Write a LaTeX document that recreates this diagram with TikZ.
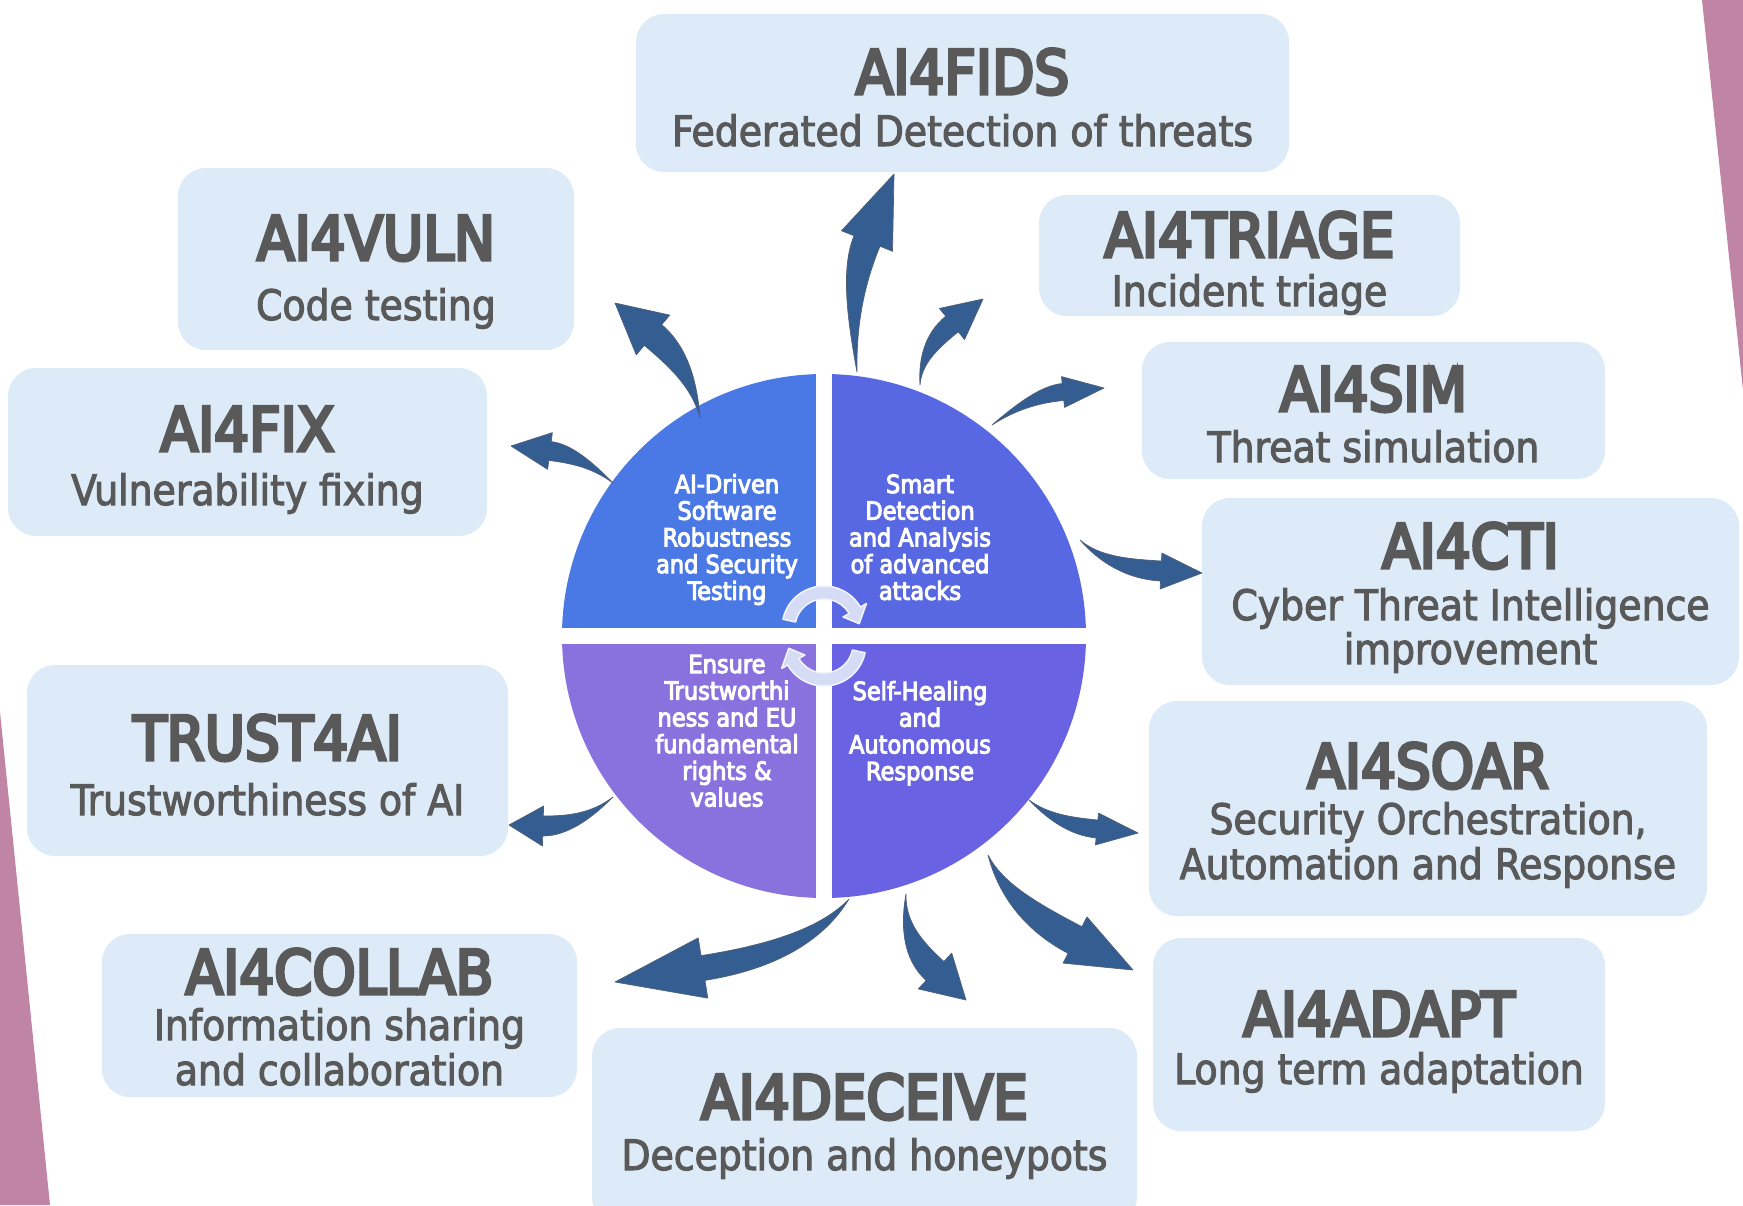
\documentclass[tikz,border=0pt]{standalone}
\usepackage{fontspec}
\usetikzlibrary{calc}
\newfontfamily\dvcttl{DejaVu Sans Condensed}[FakeBold=5.5]
\newfontfamily\dvcsub{DejaVu Sans Condensed}[FakeBold=2.5]
\newfontfamily\dvcq{DejaVu Sans Condensed}[FakeBold=4]
\definecolor{boxblue}{RGB}{220,235,247}
\definecolor{txtgray}{RGB}{89,89,89}
\definecolor{pinkside}{RGB}{192,132,164}
\definecolor{arrowblue}{RGB}{52,94,145}
\definecolor{arrowedge}{RGB}{80,95,120}
\definecolor{qtl}{RGB}{74,120,228}
\definecolor{qtr}{RGB}{88,104,226}
\definecolor{qbl}{RGB}{137,114,222}
\definecolor{qbr}{RGB}{105,98,226}
\definecolor{cyclefill}{RGB}{214,220,246}
\definecolor{cycleedge}{RGB}{242,244,253}
\tikzset{
  box/.style={fill=boxblue, rounded corners=28pt, inner sep=0pt},
  ttl/.style={anchor=base, text=txtgray, inner sep=0pt, font=\dvcttl\fontsize{61}{64}\selectfont},
  sub/.style={anchor=base, text=txtgray, inner sep=0pt, font=\dvcsub\fontsize{42}{45}\selectfont},
  qtxt/.style={anchor=base, text=white, inner sep=0pt, font=\dvcq\fontsize{25}{26.7}\selectfont},
  fatarrowstyle/.style={fill=arrowblue, draw=arrowedge, line width=0.7pt, line join=round},
  cyclearrow/.style={fill=cyclefill, draw=cycleedge, line width=1.5pt, line join=round}
}
% tail, control, head base, tip, half body width, half head width, control offset
\newcommand{\fatarrow}[7]{%
  \coordinate (aS) at (#1);
  \coordinate (aC) at (#2);
  \coordinate (aH) at (#3);
  \coordinate (aT) at (#4);
  \coordinate (aP1) at ($(aH)!#5pt!90:(aT)$);
  \coordinate (aP2) at ($(aH)!#5pt!-90:(aT)$);
  \coordinate (aB1) at ($(aH)!#6pt!90:(aT)$);
  \coordinate (aB2) at ($(aH)!#6pt!-90:(aT)$);
  \coordinate (aC1) at ($(aC)!#7pt!90:(aH)$);
  \coordinate (aC2) at ($(aC)!#7pt!-90:(aH)$);
  \coordinate (aE1) at ($(aS)!0.667!(aC1)$);
  \coordinate (aE2) at ($(aS)!0.667!(aC2)$);
  \coordinate (aD1) at ($(aP1)+0.667*(aC)-0.667*(aH)$);
  \coordinate (aD2) at ($(aP2)+0.667*(aC)-0.667*(aH)$);
  \path[fatarrowstyle] (aS) .. controls (aE1) and (aD1) .. (aP1) -- (aB1) -- (aT) -- (aB2) -- (aP2)
     .. controls (aD2) and (aE2) .. (aS) -- cycle;
}
\begin{document}
\begin{tikzpicture}[x=1pt,y=-1pt]
\useasboundingbox (0,0) rectangle (1743,1205);
% pink side wedges
\fill[pinkside] (1702,0) -- (1743,0) -- (1743,390) -- cycle;
\fill[pinkside] (0,712) -- (50,1205) -- (0,1205) -- cycle;

% boxes
\node[box, minimum width=653pt, minimum height=158pt] (fids) at (962.5,93) {};
\node[box, minimum width=396pt, minimum height=182pt] (vuln) at (376,259) {};
\node[box, minimum width=421pt, minimum height=121pt] (triage) at (1249.5,255.5) {};
\node[box, minimum width=463pt, minimum height=137pt] (sim) at (1373.5,410.5) {};
\node[box, minimum width=479pt, minimum height=168pt] (fix) at (247.5,452) {};
\node[box, minimum width=537pt, minimum height=187pt] (cti) at (1470.5,591.5) {};
\node[box, minimum width=481pt, minimum height=191pt] (trust) at (267.5,760.5) {};
\node[box, minimum width=558pt, minimum height=215pt] (soar) at (1428,808.5) {};
\node[box, minimum width=475pt, minimum height=163pt] (collab) at (339.5,1015.5) {};
\node[box, minimum width=545pt, minimum height=197pt] (deceive) at (864.5,1126.5) {};
\node[box, minimum width=452pt, minimum height=193pt] (adapt) at (1379,1034.5) {};

% box texts
\node[ttl] (fidsT) at (962.5,94) {AI4FIDS};
\node[sub] (fidsS) at (962.5,146) {Federated Detection of threats};
\node[ttl] (vulnT) at (376,260) {AI4VULN};
\node[sub] (vulnS) at (376,320) {Code testing};
\node[ttl] (triageT) at (1249.5,257) {AI4TRIAGE};
\node[sub] (triageS) at (1249.5,306) {Incident triage};
\node[ttl] (simT) at (1373.5,411) {AI4SIM};
\node[sub] (simS) at (1373.5,462) {Threat simulation};
\node[ttl] (fixT) at (247.5,451) {AI4FIX};
\node[sub] (fixS) at (247.5,505) {Vulnerability fixing};
\node[ttl] (ctiT) at (1470.5,568) {AI4CTI};
\node[sub] (ctiS1) at (1470.5,620) {Cyber Threat Intelligence};
\node[sub] (ctiS2) at (1470.5,664) {improvement};
\node[ttl] (trustT) at (267.5,760) {TRUST4AI};
\node[sub] (trustS) at (267.5,815) {Trustworthiness of AI};
\node[ttl] (soarT) at (1428,788) {AI4SOAR};
\node[sub] (soarS1) at (1428,834) {Security Orchestration,};
\node[sub] (soarS2) at (1428,879) {Automation and Response};
\node[ttl] (collabT) at (339.5,994) {AI4COLLAB};
\node[sub] (collabS1) at (339.5,1040) {Information sharing};
\node[sub] (collabS2) at (339.5,1085) {and collaboration};
\node[ttl] (deceiveT) at (864.5,1119) {AI4DECEIVE};
\node[sub] (deceiveS) at (864.5,1170) {Deception and honeypots};
\node[ttl] (adaptT) at (1379,1036) {AI4ADAPT};
\node[sub] (adaptS) at (1379,1084) {Long term adaptation};

% central disk
\coordinate (cc) at (824,636);
\begin{scope}
  \clip (cc) circle[radius=262];
  \fill[qtl] (550,360) rectangle (816,628);
  \fill[qtr] (832,360) rectangle (1100,628);
  \fill[qbl] (550,644) rectangle (816,910);
  \fill[qbr] (832,644) rectangle (1100,910);
\end{scope}

% quadrant texts
\foreach \t [count=\i] in {AI-Driven,Software,Robustness,and Security,Testing}
  \node[qtxt] (qa\i) at (727,{493+26.7*(\i-1)}) {\t};
\foreach \t [count=\i] in {Smart,Detection,and Analysis,of advanced,attacks}
  \node[qtxt] (qb\i) at (920,{493+26.7*(\i-1)}) {\t};
\foreach \t [count=\i] in {Ensure,Trustworthi,ness and EU,fundamental,rights \&,values}
  \node[qtxt] (qc\i) at (727,{673+26.7*(\i-1)}) {\t};
\foreach \t [count=\i] in {Self-Healing,and,Autonomous,Response}
  \node[qtxt] (qd\i) at (920,{700+26.7*(\i-1)}) {\t};

% cycle arrows
\coordinate (c1) at (824,628);
\path[cyclearrow] ($(c1)+(192:42)$) arc[start angle=192, end angle=330, radius=42]
  -- ($(c1)+(330:49)$) -- ($(c1)+(353:35.5)$) -- ($(c1)+(330:22)$) -- ($(c1)+(330:29)$)
  arc[start angle=330, end angle=192, radius=29] -- cycle;
\coordinate (c2) at (824,644);
\path[cyclearrow] ($(c2)+(12:42)$) arc[start angle=12, end angle=150, radius=42]
  -- ($(c2)+(150:49)$) -- ($(c2)+(173:35.5)$) -- ($(c2)+(150:22)$) -- ($(c2)+(150:29)$)
  arc[start angle=150, end angle=12, radius=29] -- cycle;

% fat curved arrows
\fatarrow{700,418}{692,368}{653,335}{615,303}{13.5}{26}{6}      % vuln
\fatarrow{613,483}{581,455}{550,451}{511,446}{9.5}{18.5}{4}     % fix
\fatarrow{857,372}{848,287}{867,241}{894,174}{14}{27.5}{8}      % fids
\fatarrow{920,385}{920,350}{952,324}{983,299}{10}{20}{4}        % triage
\fatarrow{992,425}{1032,395}{1063,392}{1104,388}{8.5}{15.5}{4}  % sim
\fatarrow{1080,540}{1108,568}{1161,571}{1202,573}{10}{18}{4}    % cti
\fatarrow{1029,800}{1057,825}{1097,829}{1138,833}{9}{16}{4}     % soar
\fatarrow{988,855}{1006,904}{1075,940}{1133,970}{15}{26}{8}     % adapt
\fatarrow{613,797}{580,826}{543,826}{509,825}{10}{20}{4}        % trust
\fatarrow{849,899}{810,951}{703,968}{615,982}{12.5}{30.5}{10}   % collab
\fatarrow{906,894}{901,940}{935,971}{966,1000}{13}{24.5}{6}     % deceive
\end{tikzpicture}
\end{document}
